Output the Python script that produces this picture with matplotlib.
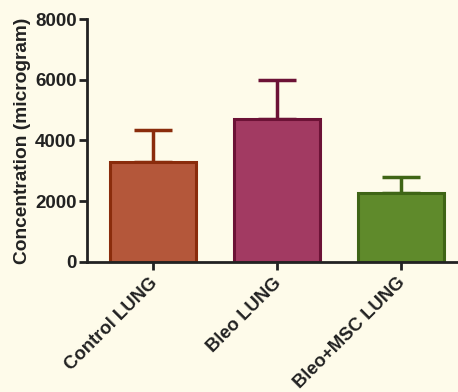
import matplotlib
matplotlib.use("Agg")
import matplotlib.pyplot as plt
from matplotlib.transforms import ScaledTranslation

categories = ["Control LUNG", "Bleo LUNG", "Bleo+MSC LUNG"]
means = [3300, 4720, 2280]
errors = [1050, 1280, 500]
y_ticks = [0, 2000, 4000, 6000, 8000]

face_colors = ["#B4573A", "#A23A62", "#5F8A2B"]
edge_colors = ["#8A2C0C", "#6C1236", "#3F6516"]
bg = "#FEFBEA"

plt.rcParams['font.family'] = ['Liberation Sans', 'DejaVu Sans']

fig = plt.figure(figsize=(4.58, 3.92), dpi=100, facecolor=bg)
ax = fig.add_axes([0.19, 0.332, 0.81, 0.6195], facecolor=bg)

x = list(range(len(categories)))
for i in x:
    ax.bar(i, means[i], width=0.69, color=face_colors[i], edgecolor=edge_colors[i],
           linewidth=2.2, zorder=2)
    ax.errorbar(i, means[i], yerr=[[0], [errors[i]]], fmt='none', ecolor=edge_colors[i],
                elinewidth=2.5, capsize=14, capthick=2.5, zorder=1)

ax.set_xlim(-0.53, 2.46)
ax.set_ylim(0, 8000)
ax.set_yticks(y_ticks)
ax.set_yticklabels([str(t) for t in y_ticks], fontsize=13.5, fontweight='bold', color='#222222')
ax.set_xticks(x)
ax.set_xticklabels(categories, rotation=45, ha='right', rotation_mode='anchor',
                   fontsize=13.3, fontweight='bold', color='#222222')
ax.set_ylabel("Concentration (microgram)", fontsize=13.8, fontweight='bold', color='#222222', labelpad=3)

for s in ['top', 'right']:
    ax.spines[s].set_visible(False)
for s in ['left', 'bottom']:
    ax.spines[s].set_linewidth(2)
    ax.spines[s].set_color('#222222')
ax.tick_params(axis='both', width=2, length=6, color='#222222', pad=1.5)
ax.tick_params(axis='x', pad=3)
offset = ScaledTranslation(-4 / 100, 0, fig.dpi_scale_trans)
for lbl in ax.get_xticklabels():
    lbl.set_transform(lbl.get_transform() + offset)

fig.savefig("out.png", dpi=100, facecolor=bg)
